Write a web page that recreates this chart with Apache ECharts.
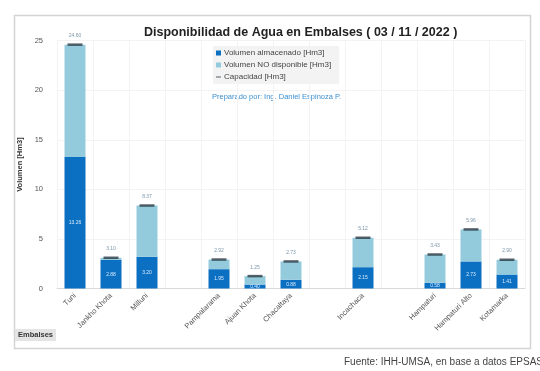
<!DOCTYPE html>
<html>
<head>
<meta charset="utf-8">
<script src="https://cdn.jsdelivr.net/npm/echarts@6/dist/echarts.min.js"></script>
<style>
  html, body { margin: 0; padding: 0; background: #ffffff; }
  #chart { width: 540px; height: 371px; }
</style>
</head>
<body>
<div id="chart"></div>
<script>
// Reservoirs (empty names separate the supply systems)
const embalses = ['Tuni', 'Jankho Khota', 'Milluni', '', 'Pampalarama', 'Ajuan Khota', 'Chacaltaya', '', 'Incachaca', '', 'Hampaturi', 'Hampaturi Alto', 'Kotamarka'];
// Stored volume [Hm3]
const almacenado = [13.26, 2.88, 3.20, '-', 1.95, 0.40, 0.88, '-', 2.15, '-', 0.58, 2.73, 1.41];
// Volume not available (capacity minus stored) [Hm3]
const noDisponible = [11.34, 0.22, 5.17, '-', 0.97, 0.85, 1.85, '-', 2.97, '-', 2.85, 3.23, 1.49];
// Total capacity [Hm3]
const capacidad = [24.60, 3.10, 8.37, '-', 2.92, 1.25, 2.73, '-', 5.12, '-', 3.43, 5.96, 2.90];
// Value axis ticks
const yTicks = [0, 5, 10, 15, 20, 25];

const chart = echarts.init(document.getElementById('chart'));
const fmt = p => (typeof p.value === 'number' ? p.value.toFixed(2) : '');
const FONT = 'Liberation Sans, Arial, sans-serif';

chart.setOption({
  animation: false,
  backgroundColor: '#ffffff',
  textStyle: { fontFamily: FONT },
  title: {
    text: 'Disponibilidad de Agua en Embalses ( 03 / 11 / 2022 )',
    left: 139, top: 21,
    textStyle: { fontSize: 12.5, fontWeight: 'bold', color: '#222' }
  },
  legend: {
    orient: 'vertical', left: 213, top: 46,
    itemWidth: 5, itemHeight: 5, itemGap: 4,
    padding: [3, 8, 3, 3],
    backgroundColor: '#f3f3f3',
    textStyle: { fontSize: 8, color: '#444', padding: [0, 0, 0, -2] },
    data: [
      { name: 'Volumen almacenado [Hm3]', icon: 'rect' },
      { name: 'Volumen NO disponible [Hm3]', icon: 'rect' },
      { name: 'Capacidad [Hm3]', icon: 'path://M0,4 L10,4 L10,6 L0,6 Z' }
    ]
  },
  grid: { left: 57, right: 15, top: 40.7, bottom: 82.5 },
  xAxis: {
    type: 'category', data: embalses,
    axisLine: { lineStyle: { color: '#d9d9d9' } },
    axisTick: { show: false },
    splitLine: { show: true, lineStyle: { color: '#f3f3f3' } },
    axisLabel: { rotate: 45, fontSize: 7.5, color: '#555', interval: 0, margin: 6 }
  },
  yAxis: {
    type: 'value', min: yTicks[0], max: yTicks[yTicks.length - 1], interval: 5,
    name: 'Volumen [Hm3]', nameLocation: 'middle', nameGap: 28,
    nameTextStyle: { fontSize: 7.5, fontWeight: 'bold', color: '#333' },
    axisLine: { show: false }, axisTick: { show: false },
    splitLine: { show: true, lineStyle: { color: '#f3f3f3' } },
    axisLabel: { fontSize: 7.5, color: '#555', margin: 14 }
  },
  series: [
    {
      name: 'Volumen almacenado [Hm3]', type: 'bar', stack: 'vol',
      data: almacenado, barWidth: 21,
      itemStyle: { color: '#0b6fc2' },
      label: { show: true, position: 'inside', fontSize: 5, color: '#d8ecff', formatter: fmt }
    },
    {
      name: 'Volumen NO disponible [Hm3]', type: 'bar', stack: 'vol',
      data: noDisponible, barWidth: 21,
      itemStyle: { color: '#93cbdc' }
    },
    {
      name: 'Capacidad [Hm3]', type: 'scatter',
      data: capacidad,
      symbol: 'rect', symbolSize: [15, 2.5],
      itemStyle: { color: '#2b3a44' },
      label: { show: true, position: 'top', distance: 5, fontSize: 5, color: '#5a7d96', formatter: fmt },
      z: 5
    }
  ],
  graphic: [
    {
      type: 'rect', left: 12, top: 13, silent: true, z: -1,
      shape: { width: 516, height: 333 },
      style: { fill: 'none', stroke: '#d4d4d4', lineWidth: 1.5 }
    },
    {
      type: 'text', left: 212, top: 93,
      style: { text: 'Preparado por: Ing. Daniel Espinoza P.', fontSize: 7.5, fill: '#3b8fd0', fontFamily: FONT }
    },
    {
      type: 'text', left: 15, top: 329,
      style: {
        text: 'Embalses', fontSize: 7.5, fontWeight: 'bold', fill: '#333',
        backgroundColor: '#e4e4e4', padding: [2, 3],
        fontFamily: FONT
      }
    },
    {
      type: 'text', left: 344, top: 357,
      style: { text: 'Fuente: IHH-UMSA, en base a datos EPSAS', fontSize: 10, fill: '#444', fontFamily: FONT }
    }
  ]
});
</script>
</body>
</html>
